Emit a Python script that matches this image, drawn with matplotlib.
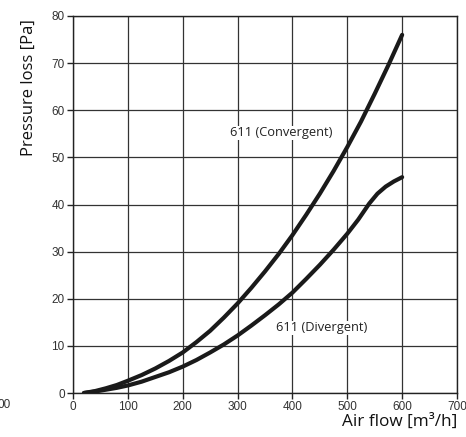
import numpy as np
import matplotlib.pyplot as plt

# curve readings (air flow m3/h, pressure loss Pa)
flow_conv = [20, 40, 60, 80, 100, 125, 150, 175, 200, 225, 250, 275, 300, 325,
             350, 375, 400, 425, 450, 475, 500, 525, 550, 575, 600]
loss_conv = [0, 0.4, 1.0, 1.7, 2.6, 3.8, 5.2, 6.8, 8.6, 10.8, 13.2, 16.0, 19.0, 22.3,
             25.8, 29.5, 33.5, 37.8, 42.3, 47.1, 52.2, 57.6, 63.5, 69.6, 76.0]

flow_div = [20, 40, 60, 80, 100, 125, 150, 175, 200, 225, 250, 275, 300, 325, 350,
            375, 400, 425, 450, 475, 500, 520, 540, 555, 570, 585, 600]
loss_div = [0, 0.3, 0.7, 1.1, 1.6, 2.4, 3.4, 4.4, 5.6, 7.0, 8.6, 10.3, 12.2, 14.3, 16.5,
            18.8, 21.3, 24.2, 27.2, 30.4, 33.8, 36.8, 40.2, 42.3, 43.8, 44.9, 45.8]

xticks = [0, 100, 200, 300, 400, 500, 600, 700]
yticks = [0, 10, 20, 30, 40, 50, 60, 70, 80]

fig = plt.figure(figsize=(4.66, 4.37), dpi=100)
ax = fig.add_axes([73/466, 1 - 393/437, (457-73)/466, (393-16)/437])

ax.plot(flow_conv, loss_conv, color='#1a1a1a', lw=3.0, solid_capstyle='round',
        solid_joinstyle='round', zorder=3)
ax.plot(flow_div, loss_div, color='#1a1a1a', lw=3.0, solid_capstyle='round',
        solid_joinstyle='round', zorder=3)

ax.set_xlim(0, 700)
ax.set_ylim(0, 80)
ax.set_xticks(xticks)
ax.set_yticks(yticks)
ax.grid(True, color='#333333', lw=0.9)
for s in ax.spines.values():
    s.set_color('#222222')
    s.set_linewidth(1.0)
ax.tick_params(direction='out', length=4, width=1, colors='#222222',
               labelcolor='#333333', labelsize=8.5, pad=2)
for lab in ax.get_xticklabels() + ax.get_yticklabels():
    lab.set_family('Liberation Sans')

box = dict(facecolor='white', edgecolor='none', pad=0.5)
ax.text(286, 55.2, '611 (Convergent)', fontsize=9.3, family='Open Sans',
        color='#222222', va='center', ha='left', bbox=box, zorder=4)
ax.text(370, 13.8, '611 (Divergent)', fontsize=9.3, family='Open Sans',
        color='#222222', va='center', ha='left', bbox=box, zorder=4)

fig.text(457/466, 1 - 422/437, 'Air flow [m³/h]', fontsize=12.3, family='Open Sans',
         ha='right', va='center', color='#111111')
fig.text(29/466, 1 - 88/437, 'Pressure loss [Pa]', fontsize=12, family='Open Sans',
         rotation=90, ha='center', va='center', color='#111111')
fig.text(-3/466, 1 - 405/437, '00', fontsize=8.5, family='Liberation Sans',
         ha='left', va='center', color='#333333')

fig.savefig('out.png', dpi=100)
